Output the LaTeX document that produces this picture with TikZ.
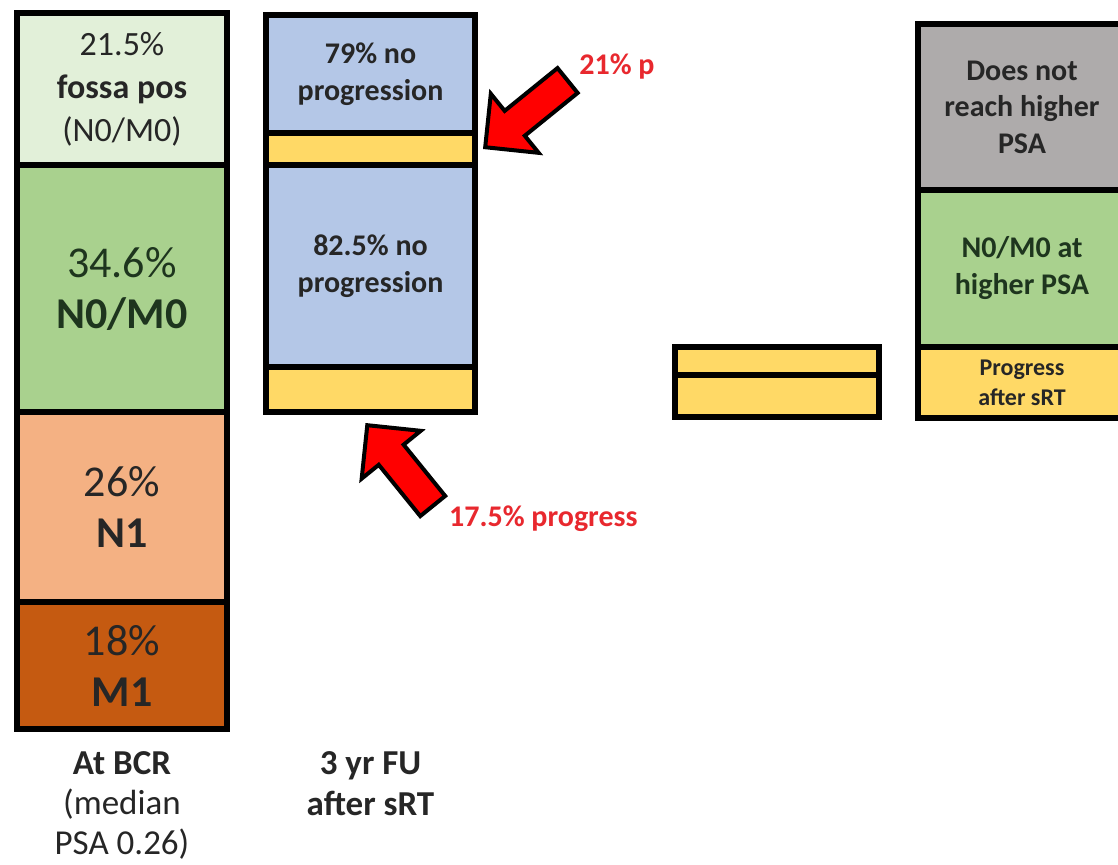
\documentclass[tikz,border=0pt]{standalone}
\usepackage{fontspec}
\setmainfont{Carlito}
\usetikzlibrary{positioning,shapes.arrows}

\definecolor{fossagreen}{HTML}{E2F0D9}
\definecolor{nogreen}{HTML}{A9D18E}
\definecolor{nodepeach}{HTML}{F4B183}
\definecolor{metbrown}{HTML}{C55A11}
\definecolor{noprogblue}{HTML}{B4C7E7}
\definecolor{progyellow}{HTML}{FFD966}
\definecolor{higherpsagray}{HTML}{AEABAB}
\definecolor{inktext}{HTML}{262626}
\definecolor{greentext}{HTML}{1E351E}
\definecolor{arrowred}{HTML}{FF0000}
\definecolor{labelred}{HTML}{E8282E}

\begin{document}
\begin{tikzpicture}[x=1pt, y=1pt,
    seg/.style={draw=black, line width=6pt, outer sep=0pt, inner sep=0pt,
        anchor=north west, align=center, text=inktext},
    smalltxt/.style={font=\fontsize{34}{43}\selectfont},
    bigtxt/.style={font=\fontsize{44}{51}\selectfont},
    boxtxt/.style={font=\bfseries\fontsize{30}{37}\selectfont},
    tinytxt/.style={font=\bfseries\fontsize{24}{30}\selectfont},
    collabel/.style={align=center, inner sep=0pt, text=inktext,
        font=\fontsize{35}{40}\selectfont},
    redarrow/.style={single arrow, draw=black, fill=arrowred, line width=4pt,
        inner xsep=0pt, inner ysep=14pt, minimum width=72pt,
        single arrow head extend=22pt},
    redlabel/.style={inner sep=0pt, text=labelred,
        font=\bfseries\fontsize{30}{36}\selectfont}]

    % frame of the picture
    \clip (0,0) rectangle (1118,-864);

    % column at BCR
    \node[seg, smalltxt, fill=fossagreen, minimum width=210pt, minimum height=152pt]
        (fossa) at (17,-13) {21.5\%\\\textbf{fossa pos}\\(N0/M0)};
    \node[seg, bigtxt, fill=nogreen, text=greentext, minimum width=210pt, minimum height=247pt]
        (nzero) at (fossa.south west) {34.6\%\\\textbf{N0/M0}};
    \node[seg, bigtxt, fill=nodepeach, minimum width=210pt, minimum height=190pt]
        (none) at (nzero.south west) {26\%\\\textbf{N1}};
    \node[seg, bigtxt, fill=metbrown, minimum width=210pt, minimum height=127pt]
        (mone) at (none.south west) {18\%\\\textbf{M1}};

    % column 3 yr FU
    \node[seg, boxtxt, fill=noprogblue, minimum width=209pt, minimum height=118pt]
        (noprogA) at (266,-15) {79\% no\\progression};
    \node[seg, fill=progyellow, minimum width=209pt, minimum height=32pt]
        (progA) at (noprogA.south west) {};
    \node[seg, boxtxt, fill=noprogblue, minimum width=209pt, minimum height=202pt]
        (noprogB) at (progA.south west) {82.5\% no\\progression};
    \node[seg, fill=progyellow, minimum width=209pt, minimum height=45pt]
        (progB) at (noprogB.south west) {};

    % middle bar
    \node[seg, fill=progyellow, minimum width=204pt, minimum height=28pt]
        (midA) at (675,-347) {};
    \node[seg, fill=progyellow, minimum width=204pt, minimum height=42pt]
        (midB) at (midA.south west) {};

    % column at higher PSA
    \node[seg, boxtxt, fill=higherpsagray, minimum width=208pt, minimum height=166pt,
        font=\bfseries\fontsize{30}{36.5}\selectfont]
        (nohigh) at (918,-24) {Does not\\reach higher\\PSA};
    \node[seg, boxtxt, fill=nogreen, text=greentext, minimum width=208pt, minimum height=157pt]
        (higher) at (nohigh.south west) {N0/M0 at\\higher PSA};
    \node[seg, tinytxt, fill=progyellow, minimum width=208pt, minimum height=71pt]
        (progsrt) at (higher.south west) {Progress\\after sRT};

    % column labels
    \node[collabel, below=22pt of mone] (bcr) {\textbf{At BCR}\\(median\\PSA 0.26)};
    \node[collabel, anchor=north, font=\bfseries\fontsize{35}{41}\selectfont]
        (fu) at (progB |- bcr.north) {3 yr FU\\after sRT};

    % red arrows
    \node[redarrow, minimum height=106pt, rotate=219, anchor=tip]
        (arrA) at ([xshift=8pt]progA.east) {};
    \node[redarrow, minimum height=104pt, rotate=129, anchor=tip]
        (arrB) at ([shift={(-5pt,-11pt)}]progB.south) {};
    \node[redlabel, anchor=west] (pctA) at ([shift={(10pt,13pt)}]arrA.tail) {21\% p};
    \node[redlabel, anchor=west] (pctB) at ([shift={(15pt,-11pt)}]arrB.tail) {17.5\% progress};
\end{tikzpicture}
\end{document}
